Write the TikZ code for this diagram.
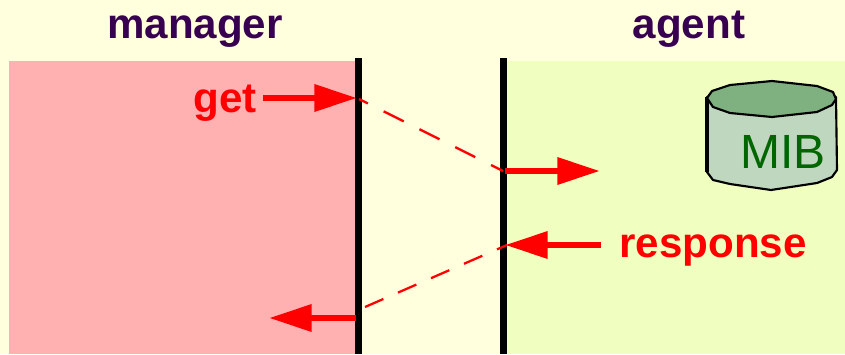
\documentclass[tikz,border=0pt]{standalone}
\usepackage{fontspec}
\setmainfont{Liberation Sans}
\usetikzlibrary{arrows.meta}
\definecolor{paleback}{HTML}{FFFFDD}
\definecolor{managerpink}{HTML}{FFB0B0}
\definecolor{agentgreen}{HTML}{F0FFC0}
\definecolor{titlepurple}{HTML}{380050}
\definecolor{mibtop}{HTML}{7FB07F}
\definecolor{mibbody}{HTML}{BFD6BF}
\definecolor{mibtext}{HTML}{006600}
\tikzset{
	titlelabel/.style={anchor=base,text=titlepurple,font=\fontsize{31.6}{36}\selectfont\bfseries,inner sep=0pt},
	msglabel/.style={anchor=base,text=red,font=\fontsize{31.6}{36}\selectfont\bfseries,inner sep=0pt},
	fatarrow/.style={draw=red,line width=5pt,-{Triangle[length=32pt,width=19.5pt,sep=0pt]},red},
	msgline/.style={draw=red,line width=1.7pt},
	timeline/.style={draw=black,line width=4.6pt},
	mibedge/.style={draw=black,line width=1.6pt,line join=round}
}
\begin{document}
\begin{tikzpicture}[x=0.75pt,y=0.75pt,yscale=-1,xscale=1]
	\useasboundingbox (0,0) rectangle (845,354);
	\fill[paleback] (0,0) rectangle (845,354);
	
	%Panels
	\fill[managerpink] (9,61) rectangle (357,354);
	\fill[agentgreen] (503,61) rectangle (845,354);
	
	%Time lines
	\coordinate (mgrtop) at (358.5,58);
	\coordinate (mgrbot) at (358.5,354);
	\coordinate (agttop) at (503.5,58);
	\coordinate (agtbot) at (503.5,354);
	\draw[timeline] (mgrtop) -- (mgrbot);
	\draw[timeline] (agttop) -- (agtbot);
	
	%MIB cylinder
	\draw[mibedge,fill=mibbody] (707,97) -- (707,172) -- (713,180) -- (730,184) -- (771,190) -- (817,183) -- (832,177) -- (837,170) -- (836,97) -- cycle;
	\draw[black,line width=2.6pt] (707,97) -- (707,172);
	\draw[mibedge,fill=mibtop] (707,98) -- (712,91) -- (730,85) -- (772,81) -- (817,86) -- (833,92) -- (836,99) -- (832,105) -- (817,112) -- (772,117) -- (730,113) -- (713,107) -- cycle;
	
	% Text Node
	\node[titlelabel] (manager) at (195,38) {manager};
	% Text Node
	\node[titlelabel] (agent) at (689,38) {agent};
	% Text Node
	\node[msglabel] (get) at (225,112) {get};
	% Text Node
	\node[msglabel] (response) at (713,257) {response};
	% Text Node
	\node[anchor=base,text=mibtext,inner sep=0pt,font=\fontsize{36}{42}\selectfont] (mib) at (783,168) {MIB};
	
	%Arrow ends
	\coordinate (getfrom) at (263,98);
	\coordinate (getto) at (357,98);
	\coordinate (reqfrom) at (505,171);
	\coordinate (reqto) at (600,171);
	\coordinate (respfrom) at (601,245);
	\coordinate (respto) at (505,245);
	\coordinate (backfrom) at (356,318);
	\coordinate (backto) at (269,318);
	
	%Arrows
	\draw[fatarrow] (getfrom) -- (getto);
	\draw[fatarrow] (reqfrom) -- (reqto);
	\draw[fatarrow] (respfrom) -- (respto);
	\draw[fatarrow] (backfrom) -- (backto);
	
	%Dashed lines
	\coordinate (getstart) at (359,99);
	\coordinate (getstop) at (503,171);
	\coordinate (respstart) at (507,245);
	\coordinate (respstop) at (365,307);
	\draw[msgline,dash pattern=on 16.8pt off 13.2pt,dash phase=9.3pt] (getstart) -- (getstop);
	\draw[msgline,dash pattern=on 15pt off 12pt,dash phase=6.8pt] (respstart) -- (respstop);
	
\end{tikzpicture}
\end{document}
